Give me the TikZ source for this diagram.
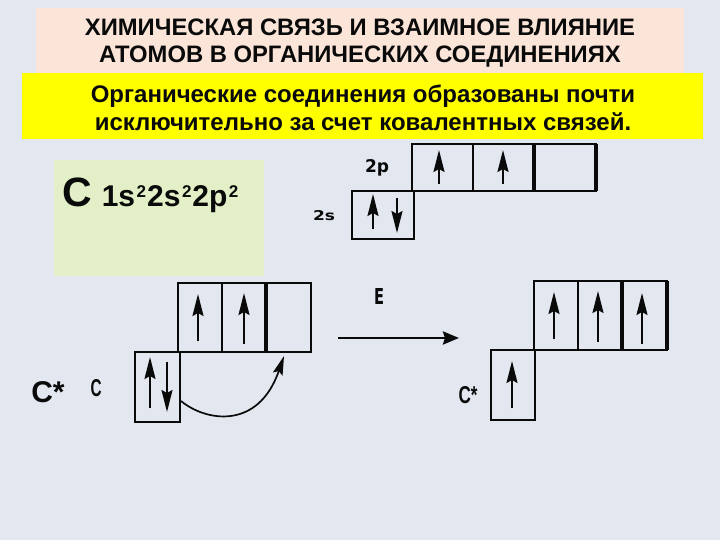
\documentclass[tikz,border=0pt]{standalone}
\usepackage{fontspec}
\usepackage{graphicx}
\setmainfont{Liberation Sans}
\newfontfamily\widefont{DejaVu Sans}
\usetikzlibrary{arrows.meta}
\definecolor{bgc}{HTML}{E2E7F0}
\definecolor{peach}{HTML}{FBE5D8}
\definecolor{pale}{HTML}{E3F0C7}
\definecolor{ink}{HTML}{0A0A0A}
\definecolor{bandy}{HTML}{FFFF00}
\tikzset{
  panel/.style={draw=none,inner sep=0,outer sep=0},
  cellbox/.style={draw=ink,line width=1.8pt,fill=none,inner sep=0,outer sep=0},
  spin/.style={draw=ink,line width=2pt,-{Stealth[length=22pt,width=11pt,inset=3pt]}},
  title/.style={align=center,text=ink,font=\fontsize{23.8}{27.5}\selectfont\bfseries},
  sub/.style={align=center,text=ink,font=\fontsize{24}{28.5}\selectfont\bfseries},
  lab/.style={text=ink,inner sep=0},
}
\newcommand{\cellat}[5]{\node[cellbox,minimum width=#4pt-#2pt,minimum height=#5pt-#3pt,anchor=north west] (#1) at (#2,#3) {};}
\newcommand{\spinat}[4]{\coordinate (#1a) at (#2,#3);\coordinate (#1b) at (#2,#4);\draw[spin] (#1a) -- (#1b);}
\newcommand{\supx}{\hspace{1.5pt}\raisebox{9pt}{\fontsize{17}{18}\selectfont\bfseries 2}\hspace{1pt}}
\begin{document}
\begin{tikzpicture}[x=1pt,y=-1pt]
\useasboundingbox (0,0) rectangle (720,540);
\fill[bgc] (0,0) rectangle (720,540);
\node[panel,fill=peach,minimum width=648pt,minimum height=90pt,anchor=north west] (head) at (36,8.5) {};
\node[panel,fill=bandy,minimum width=681pt,minimum height=66pt,anchor=north west] (band) at (22,73) {};
\node[panel,fill=pale,minimum width=210pt,minimum height=116pt,anchor=north west] (green) at (54,160) {};
\node[title] (t1) at (360,43) {ХИМИЧЕСКАЯ СВЯЗЬ И ВЗАИМНОЕ ВЛИЯНИЕ\\АТОМОВ В ОРГАНИЧЕСКИХ СОЕДИНЕНИЯХ};
\node[sub] (t2) at (363,108) {Органические соединения образованы почти\\исключительно за счет ковалентных связей.};
\node[lab,anchor=base west] (conf) at (62,207) {\bfseries\fontsize{41}{42}\selectfont C\hspace{10pt}\fontsize{30}{32}\selectfont 1s\supx 2s\supx 2p\supx};
% upper diagram
\cellat{pa}{412}{144}{473}{191}
\cellat{pb}{473}{144}{534}{191}
\cellat{pc}{534}{144}{596}{191}
\draw[ink,line width=3.2pt] (pc.north west) -- (pc.south west) (pc.north east) -- (pc.south east);
\cellat{sa}{352}{191}{414}{239}
\spinat{u1}{439}{184}{150}
\spinat{u2}{503}{184}{150}
\spinat{u3}{373}{229}{194}
\spinat{u4}{397}{198}{233}
\node[lab] (l2p) at (377,168) {\resizebox{24pt}{13pt}{\widefont\bfseries\fontsize{14}{14}\selectfont 2p}};
\node[lab] (l2s) at (324,216) {\resizebox{22pt}{10pt}{\widefont\bfseries\fontsize{14}{14}\selectfont 2s}};
% left diagram
\cellat{la}{178}{283}{222}{352}
\cellat{lb}{222}{283}{266}{352}
\cellat{lc}{266}{283}{311}{352}
\draw[ink,line width=3.2pt] (lc.north west) -- (lc.south west);
\cellat{ls}{135}{352}{180}{422}
\spinat{v1}{198}{341}{294}
\spinat{v2}{244}{344}{293}
\spinat{v3}{150}{408}{357}
\spinat{v4}{167}{362}{412}
\coordinate (cvs) at (181,401);
\coordinate (cve) at (284,356);
\draw[ink,line width=1.7pt,-{Stealth[length=19pt,width=10pt,inset=3pt]}] (cvs) .. controls (205,421) and (258,431) .. (cve);
\node[lab] (cs1) at (48,392) {\bfseries\fontsize{30}{30}\selectfont C*};
\node[lab] (c1) at (96,388) {\resizebox{11pt}{17pt}{\bfseries\fontsize{14}{14}\selectfont C}};
% right diagram
\cellat{ra}{534}{281}{578}{350}
\cellat{rb}{578}{281}{622}{350}
\cellat{rc}{622}{281}{667}{350}
\draw[ink,line width=3.2pt] (rc.north west) -- (rc.south west) (rc.north east) -- (rc.south east);
\cellat{rs}{491}{350}{535}{420}
\spinat{w1}{554}{339}{292}
\spinat{w2}{598}{342}{291}
\spinat{w3}{642}{344}{293}
\spinat{w4}{512}{408}{361}
\coordinate (ea) at (338,338);
\coordinate (eb) at (459,338);
\draw[ink,line width=2.6pt,-{Stealth[length=16pt,width=13pt,inset=2pt]}] (ea) -- (eb);
\node[lab] (le) at (379,296) {\resizebox{10pt}{16pt}{\widefont\bfseries\fontsize{14}{14}\selectfont E}};
\node[lab] (cs2) at (468,395) {\resizebox{19pt}{17pt}{\bfseries\fontsize{14}{14}\selectfont C*}};
\end{tikzpicture}
\end{document}
